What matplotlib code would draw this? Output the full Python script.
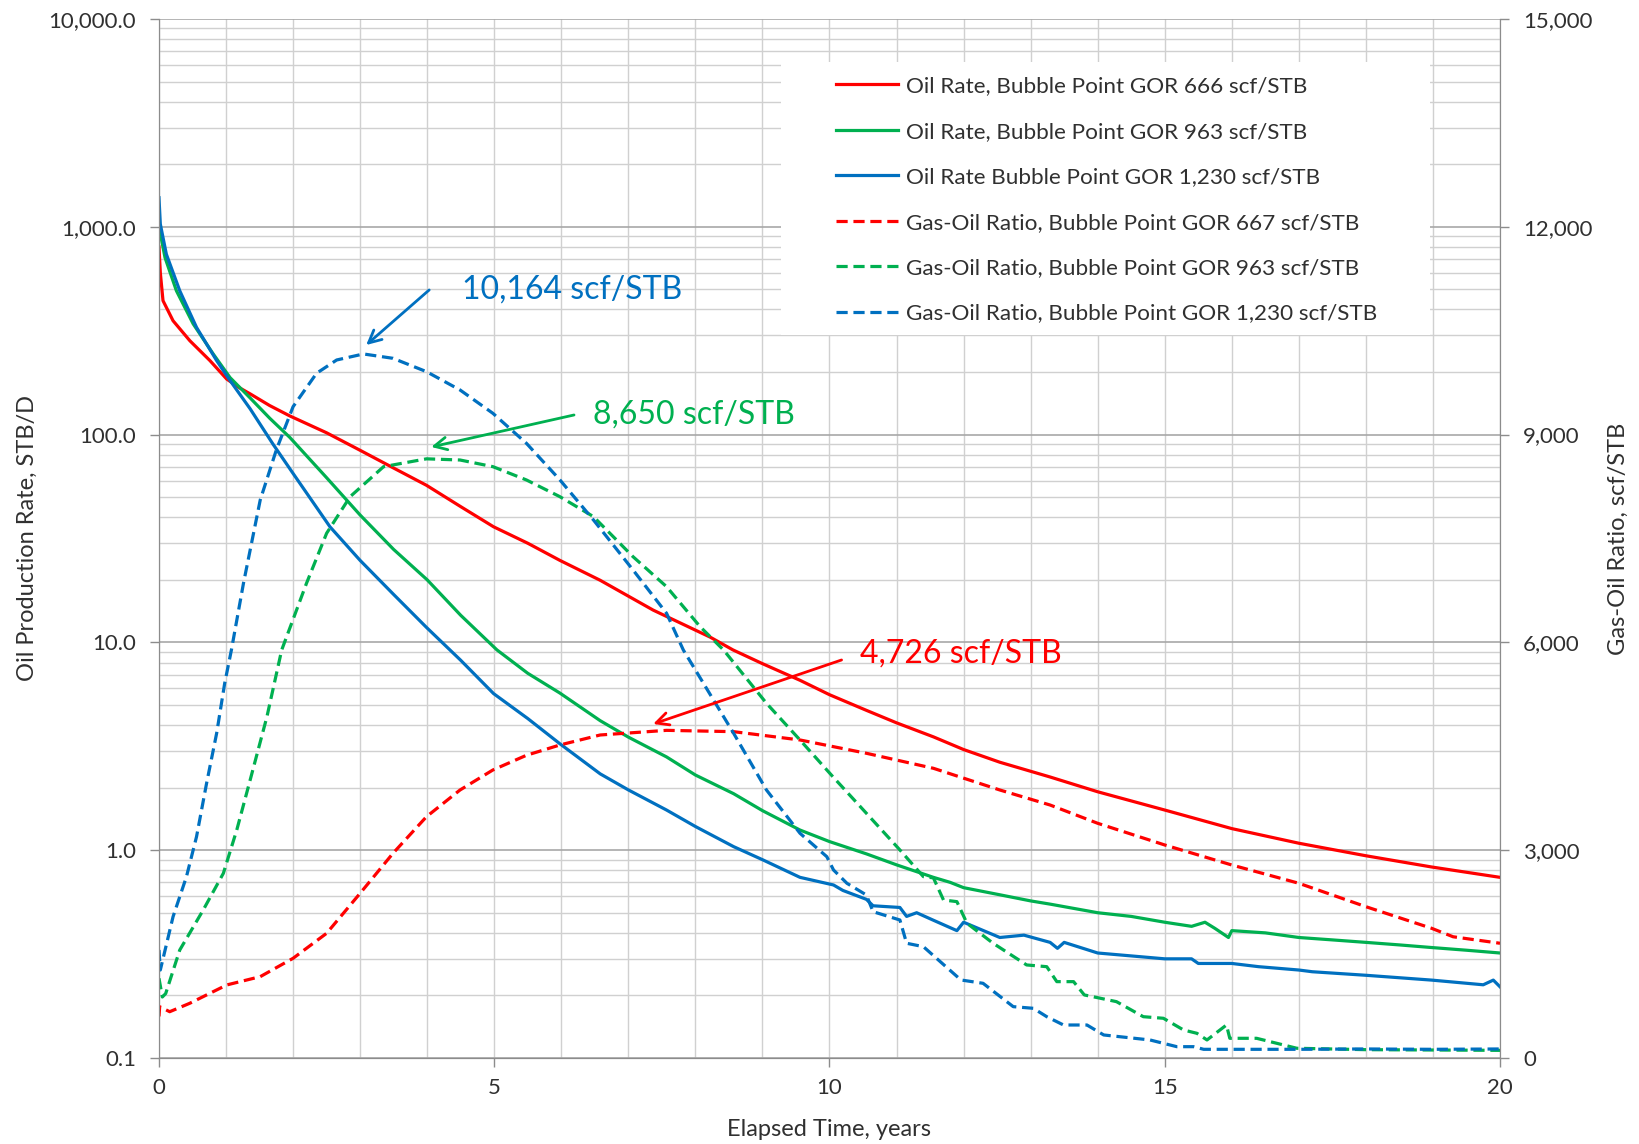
import numpy as np
import matplotlib.pyplot as plt
from matplotlib.patches import Rectangle
from matplotlib.ticker import MultipleLocator, FuncFormatter, LogLocator, NullFormatter

plt.rcParams['font.family'] = ['Lato', 'DejaVu Sans']

# ---- Oil rate, STB/D (left, log axis) ----
t_oil_666 = [0, 0.02, 0.06, 0.21, 0.46, 0.76, 1.01, 1.2, 1.36, 1.65, 1.95, 2.5, 3.0, 3.5,
             3.99, 4.5, 4.99, 5.5, 5.98, 6.58, 7.37, 8.22, 8.56, 9.0, 9.56, 10.0, 10.55,
             11.0, 11.55, 12.0, 12.54, 13.29, 14.0, 15.0, 16.0, 17.0, 18.0, 18.98, 20.0]
oil_666 = [800, 600, 441, 353, 283, 227, 185, 168, 157, 138, 123, 102, 84, 69,
           57, 45, 36, 30, 24.8, 19.9, 14.3, 10.6, 9.2, 7.9, 6.57, 5.6, 4.71,
           4.1, 3.51, 3.05, 2.65, 2.25, 1.91, 1.56, 1.27, 1.08, 0.94, 0.83, 0.74]

t_oil_963 = [0, 0.09, 0.26, 0.51, 0.81, 1.06, 1.36, 1.65, 1.95, 2.5, 3.0, 3.5, 4.0, 4.5,
             5.04, 5.5, 5.98, 6.58, 7.0, 7.57, 8.0, 8.57, 9.0, 9.56, 10.0, 10.55, 11.0,
             11.55, 11.8, 12.0, 12.54, 13.0, 13.29, 14.0, 14.5, 15.0, 15.4, 15.6, 15.75,
             15.95, 16.0, 16.5, 17.0, 17.5, 18.0, 18.5, 18.98, 19.5, 20.0]
oil_963 = [1000, 711, 492, 341, 244, 188, 150, 120, 97, 62, 41, 28, 20, 13.5,
           9.2, 7.1, 5.7, 4.2, 3.5, 2.81, 2.3, 1.87, 1.55, 1.25, 1.1, 0.96, 0.85,
           0.74, 0.70, 0.66, 0.61, 0.57, 0.55, 0.50, 0.48, 0.45, 0.43, 0.45, 0.42,
           0.38, 0.41, 0.40, 0.38, 0.37, 0.36, 0.35, 0.34, 0.33, 0.32]

t_oil_1230 = [0, 0.02, 0.11, 0.31, 0.56, 0.86, 1.06, 1.36, 1.70, 2.0, 2.55, 3.0, 3.5, 3.99,
              4.5, 4.99, 5.5, 5.98, 6.58, 7.0, 7.57, 8.0, 8.57, 9.0, 9.56, 10.06, 10.2,
              10.55, 10.65, 11.05, 11.15, 11.3, 11.55, 11.9, 12.0, 12.54, 12.9, 13.29,
              13.4, 13.5, 14.0, 15.0, 15.4, 15.5, 16.0, 16.4, 17.0, 17.2, 18.0, 18.98,
              19.75, 19.9, 20.0]
oil_1230 = [1380, 1030, 738, 492, 328, 227, 182, 133, 90, 65, 36, 24.8, 17, 11.8,
            8.2, 5.67, 4.3, 3.25, 2.33, 1.95, 1.56, 1.3, 1.04, 0.9, 0.74, 0.68, 0.64,
            0.58, 0.54, 0.53, 0.48, 0.50, 0.46, 0.41, 0.45, 0.38, 0.39, 0.36,
            0.337, 0.36, 0.32, 0.30, 0.30, 0.285, 0.285, 0.275, 0.265, 0.26, 0.25, 0.237,
            0.225, 0.237, 0.22]

# ---- Gas-oil ratio, scf/STB (right, linear axis) ----
t_gor_667 = [0, 0.01, 0.16, 0.46, 1.01, 1.51, 2.0, 2.5, 3.0, 3.49, 3.99, 4.49, 4.98, 5.48,
             5.98, 6.58, 7.57, 8.57, 9.56, 10.55, 11.55, 12.54, 13.29, 14.0, 15.0, 16.0,
             17.0, 18.0, 18.98, 19.3, 20.0]
gor_667 = [600, 740, 668, 790, 1054, 1174, 1439, 1800, 2378, 2955, 3484, 3869, 4158, 4370,
           4519, 4663, 4730, 4711, 4591, 4399, 4182, 3869, 3652, 3388, 3075, 2786,
           2522, 2184, 1872, 1750, 1656]

t_gor_963 = [0, 0.05, 0.1, 0.31, 0.66, 0.96, 1.16, 1.36, 1.61, 1.83, 2.2, 2.5, 2.85, 3.35,
             3.99, 4.49, 4.98, 5.48, 5.98, 6.48, 7.07, 7.57, 8.07, 8.42, 9.06, 9.56, 10.05,
             10.55, 11.05, 11.4, 11.55, 11.7, 11.9, 12.05, 12.44, 12.94, 13.24, 13.39,
             13.64, 13.8, 14.04, 14.28, 14.68, 14.98, 15.28, 15.48, 15.63, 15.92, 15.97,
             16.37, 16.77, 16.97, 18.0, 19.0, 20.0]
gor_963 = [1150, 880, 930, 1559, 2137, 2666, 3291, 4014, 4927, 5890, 6853, 7575, 8103, 8537,
           8650, 8633, 8537, 8345, 8103, 7815, 7237, 6804, 6227, 5890, 5121, 4591, 4061,
           3533, 3003, 2618, 2600, 2281, 2257, 1945, 1656, 1343, 1318, 1102,
           1102, 910, 862, 813, 596, 573, 404, 356, 260, 476, 284,
           284, 188, 140, 120, 115, 110]

t_gor_1230 = [0, 0.02, 0.21, 0.41, 0.56, 0.71, 0.86, 0.98, 1.08, 1.26, 1.51, 1.75, 2.0, 2.35,
              2.65, 3.05, 3.49, 3.99, 4.49, 4.98, 5.48, 5.98, 6.48, 7.07, 7.57, 7.82, 8.57,
              9.06, 9.56, 9.96, 10.06, 10.26, 10.55, 10.65, 11.05, 11.15, 11.4, 11.96,
              12.29, 12.74, 13.04, 13.24, 13.49, 13.84, 14.09, 14.78, 15.18, 15.43, 15.58,
              17.0, 18.0, 19.0, 20.0]
gor_1230 = [1559, 1270, 2040, 2618, 3195, 3966, 4688, 5410, 5890, 6853, 8056, 8778, 9403, 9885,
            10077, 10164, 10101, 9908, 9644, 9307, 8874, 8345, 7767, 7045, 6420, 5890, 4688,
            3869, 3244, 2906, 2714, 2522, 2353, 2112, 1992, 1656, 1607, 1126,
            1078, 741, 717, 596, 476, 476, 332, 260, 163, 163, 125,
            125, 130, 125, 130]

labels = ['Oil Rate, Bubble Point GOR 666 scf/STB',
          'Oil Rate, Bubble Point GOR 963 scf/STB',
          'Oil Rate Bubble Point GOR 1,230 scf/STB',
          'Gas-Oil Ratio, Bubble Point GOR 667 scf/STB',
          'Gas-Oil Ratio, Bubble Point GOR 963 scf/STB',
          'Gas-Oil Ratio, Bubble Point GOR 1,230 scf/STB']

RED, GREEN, BLUE = '#FF0000', '#00B050', '#0070C0'
GRID = '#D0D0D0'
AXC = '#8C8C8C'
TXT = '#303030'
dash = (0, (3.5, 1.8))

fig = plt.figure(figsize=(16.39, 11.44), dpi=100)
ax = fig.add_axes([0.0970, 0.0752, 0.8182, 0.9082])

l1, = ax.plot(t_oil_666, oil_666, color=RED, lw=2.3, label=labels[0])
l2, = ax.plot(t_oil_963, oil_963, color=GREEN, lw=2.3, label=labels[1])
l3, = ax.plot(t_oil_1230, oil_1230, color=BLUE, lw=2.3, label=labels[2])

ax.set_yscale('log')
ax.set_ylim(0.1, 10000)
ax.set_xlim(0, 20)
ax.xaxis.set_major_locator(MultipleLocator(5))
ax.xaxis.set_minor_locator(MultipleLocator(1))
ax.yaxis.set_major_locator(LogLocator(base=10))
ax.yaxis.set_minor_locator(LogLocator(base=10, subs=np.arange(2, 10)))
ax.yaxis.set_minor_formatter(NullFormatter())
ax.yaxis.set_major_formatter(FuncFormatter(lambda v, p: f'{v:,.1f}'))

ax.set_axisbelow(True)
ax.grid(which='minor', axis='both', color=GRID, lw=1.0)
ax.grid(which='major', axis='x', color=GRID, lw=1.0)
ax.grid(which='major', axis='y', color='#A8A8A8', lw=1.2)

# white panel behind the legend hides the gridlines there
ax.add_patch(Rectangle((0.464, 0.696), 0.484, 0.2626, transform=ax.transAxes,
                       facecolor='white', edgecolor='none', zorder=1))

ax2 = ax.twinx()
l4, = ax2.plot(t_gor_667, gor_667, color=RED, lw=2.3, ls=dash, label=labels[3])
l5, = ax2.plot(t_gor_963, gor_963, color=GREEN, lw=2.3, ls=dash, label=labels[4])
l6, = ax2.plot(t_gor_1230, gor_1230, color=BLUE, lw=2.3, ls=dash, label=labels[5])
ax2.set_ylim(0, 15000)
ax2.yaxis.set_major_locator(MultipleLocator(3000))
ax2.yaxis.set_major_formatter(FuncFormatter(lambda v, p: f'{v:,.0f}'))

for a in (ax, ax2):
    for s in a.spines.values():
        s.set_color(AXC)
    a.spines['top'].set_visible(False)
    a.tick_params(which='major', length=6.5, width=1, color=AXC, labelsize=16,
                  labelcolor=TXT, pad=10)
    a.tick_params(which='minor', length=0)
ax.tick_params(axis='x', pad=8)

ax.set_xlabel('Elapsed Time, years', fontsize=17, color=TXT, labelpad=15)
ax.set_ylabel('Oil Production Rate, STB/D', fontsize=17, color=TXT, labelpad=7.5)
ax2.set_ylabel('Gas-Oil Ratio, scf/STB', fontsize=17, color=TXT, labelpad=11)

# callouts for the peak gas-oil ratios
notes = [('10,164 scf/STB', BLUE, (3.09, 10293), (4.03, 11088), (4.52, 11088)),
         ('8,650 scf/STB', GREEN, (4.06, 8821), (6.19, 9283), (6.47, 9283)),
         ('4,726 scf/STB', RED, (7.37, 4822), (10.18, 5746), (10.45, 5833))]
for txt, c, tip, tail, pos in notes:
    ax2.annotate('', xy=tip, xytext=tail,
                 arrowprops=dict(arrowstyle='->,head_length=0.9,head_width=0.45',
                                 color=c, lw=2.0, shrinkA=0, shrinkB=0))
    ax2.text(pos[0], pos[1], txt, color=c, fontsize=23, ha='left', va='center')

ax2.legend(handles=[l1, l2, l3, l4, l5, l6], loc='upper left',
           bbox_to_anchor=(0.4967, 0.9556), frameon=False, fontsize=16.2,
           handlelength=2.75, handletextpad=0.35, labelspacing=1.13, borderpad=0,
           labelcolor=TXT)

fig.savefig('out.png', dpi=100)
